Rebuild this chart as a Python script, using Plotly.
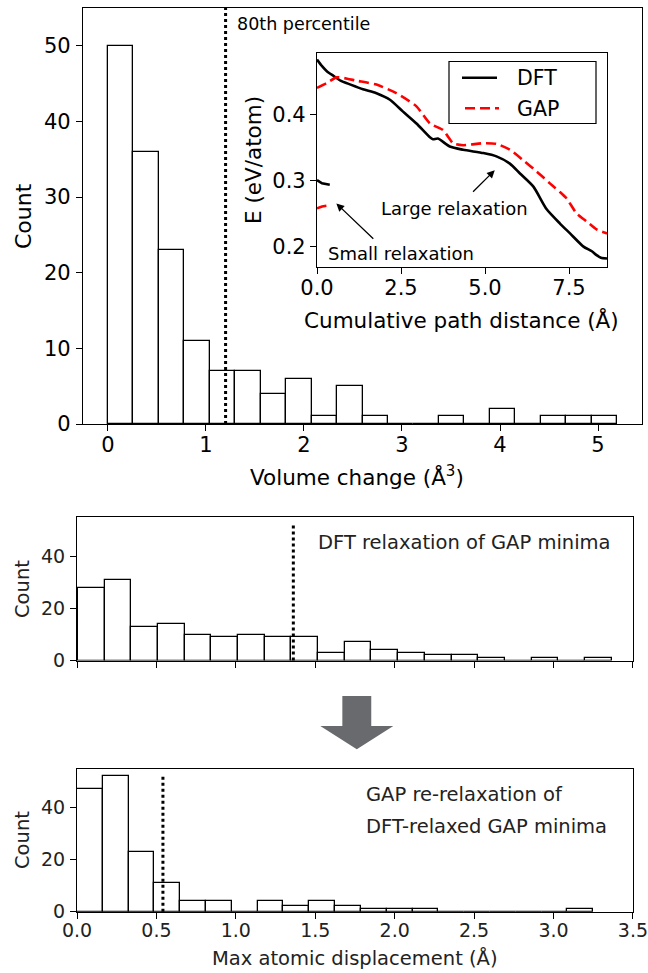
import numpy as np
import plotly.graph_objects as go

FONT = "DejaVu Sans"
W, H = 648, 973

# ---------------- data ----------------
# Top histogram: volume change
vol_counts = [50, 36, 23, 11, 7, 7, 4, 6, 1, 5, 1, 0, 0, 1, 0, 2, 0, 1, 1, 1]
vol_bin_start, vol_bin_width = 0.0, 0.2597
vol_p80 = 1.20
vol_xticks = [0, 1, 2, 3, 4, 5]
vol_yticks = [0, 10, 20, 30, 40, 50]

# Middle histogram: DFT relaxation of GAP minima
dft_counts = [28, 31, 13, 14, 10, 9, 10, 9, 9, 3, 7, 4, 3, 2, 2, 1, 0, 1, 0, 1]
dft_bin_start, dft_bin_width = 0.006, 0.168
dft_p80 = 1.362

# Bottom histogram: GAP re-relaxation of DFT-relaxed GAP minima
gap_counts = [47, 52, 23, 11, 4, 4, 0, 4, 2, 4, 2, 1, 1, 1, 0, 0, 0, 0, 0, 1]
gap_bin_start, gap_bin_width = 0.0, 0.1625
gap_p80 = 0.541
disp_xticks = [0.0, 0.5, 1.0, 1.5, 2.0, 2.5, 3.0, 3.5]
disp_xticklabels = ["0.0", "0.5", "1.0", "1.5", "2.0", "2.5", "3.0", "3.5"]
count_yticks = [0, 20, 40]

# Inset: energy vs cumulative path distance
dft_large_x = [0, 0.15, 0.3, 0.5, 0.7, 1.0, 1.37, 1.77, 2.17, 2.56, 2.96, 3.36, 3.45, 3.6,
               3.95, 4.35, 4.95, 5.34, 5.74, 6.04, 6.44, 6.83, 7.23, 7.53, 7.93, 8.18, 8.32, 8.45, 8.63]
dft_large_y = [0.484, 0.474, 0.466, 0.459, 0.452, 0.446, 0.439, 0.433, 0.423, 0.405, 0.387, 0.366, 0.363, 0.364,
               0.352, 0.347, 0.342, 0.337, 0.326, 0.311, 0.291, 0.257, 0.235, 0.220, 0.200, 0.193, 0.187, 0.183, 0.182]
gap_large_x = [0, 0.28, 0.58, 0.9, 1.17, 1.77, 2.36, 2.96, 3.36, 3.75, 4.05, 4.35, 4.95, 5.34,
               5.74, 6.14, 6.54, 6.93, 7.23, 7.43, 7.73, 8.03, 8.32, 8.63]
gap_large_y = [0.441, 0.448, 0.457, 0.455, 0.452, 0.446, 0.433, 0.413, 0.387, 0.377, 0.357, 0.354, 0.357, 0.356,
               0.347, 0.331, 0.314, 0.296, 0.283, 0.273, 0.250, 0.238, 0.226, 0.220]
dft_small_x = [0, 0.15, 0.38]
dft_small_y = [0.301, 0.296, 0.294]
gap_small_x = [0, 0.15, 0.28]
gap_small_y = [0.258, 0.261, 0.262]
inset_xticks = [0.0, 2.5, 5.0, 7.5]
inset_xticklabels = ["0.0", "2.5", "5.0", "7.5"]
inset_yticks = [0.2, 0.3, 0.4]
legend_names = ["DFT", "GAP"]

# ---------------- helpers ----------------
def px_x(p):
    return p / W

def px_y(p):
    return 1 - p / H

def centers(start, width, n):
    edges = start + width * np.arange(n + 1)
    return (edges[:-1] + edges[1:]) / 2

fig = go.Figure()

def hist_trace(counts, start, width, xa, ya):
    return go.Bar(x=centers(start, width, len(counts)), y=counts, width=width,
                  marker=dict(color="white", line=dict(color="black", width=1.3)),
                  xaxis=xa, yaxis=ya, showlegend=False, hoverinfo="skip")

fig.add_trace(hist_trace(vol_counts, vol_bin_start, vol_bin_width, "x", "y"))
fig.add_trace(hist_trace(dft_counts, dft_bin_start, dft_bin_width, "x3", "y3"))
fig.add_trace(hist_trace(gap_counts, gap_bin_start, gap_bin_width, "x4", "y4"))

DASH = "10px,5px"
# inset lines
fig.add_trace(go.Scatter(x=dft_large_x, y=dft_large_y, mode="lines", name=legend_names[0],
                         line=dict(color="black", width=2.6, shape="spline", smoothing=0.6),
                         xaxis="x2", yaxis="y2", showlegend=False))
fig.add_trace(go.Scatter(x=gap_large_x, y=gap_large_y, mode="lines", name=legend_names[1],
                         line=dict(color="#ff0000", width=2.6, dash=DASH, shape="spline", smoothing=0.6),
                         xaxis="x2", yaxis="y2", showlegend=False))
fig.add_trace(go.Scatter(x=dft_small_x, y=dft_small_y, mode="lines", showlegend=False,
                         line=dict(color="black", width=2.6), xaxis="x2", yaxis="y2"))
fig.add_trace(go.Scatter(x=gap_small_x, y=gap_small_y, mode="lines", showlegend=False,
                         line=dict(color="#ff0000", width=2.6, dash=DASH), xaxis="x2", yaxis="y2"))

axis_common = dict(showline=True, mirror=True, linecolor="black", linewidth=1.2,
                   ticks="outside", ticklen=6, tickwidth=1.2, tickcolor="black",
                   showgrid=False, zeroline=False, automargin=False, ticklabeloverflow="allow")

top_font = dict(family=FONT, size=21, color="black")
low_font = dict(family=FONT, size=19, color="#222")
fig.update_layout(
    # top main axes: px x 83-642, y 8-424
    xaxis=dict(domain=[px_x(83), px_x(642)], range=[-0.255, 5.449], anchor="y",
               tickvals=vol_xticks, tickfont=top_font, ticklabelstandoff=-4, **axis_common),
    yaxis=dict(domain=[px_y(424), px_y(8)], range=[0, 55], anchor="x",
               tickvals=vol_yticks, tickfont=top_font, ticklabelstandoff=1, **axis_common),
    # inset: px x 317-607, y 53-267
    xaxis2=dict(domain=[px_x(317), px_x(607)], range=[0, 8.63], anchor="y2",
                tickvals=inset_xticks, ticktext=inset_xticklabels, tickfont=top_font,
                ticklabelstandoff=-4, **axis_common),
    yaxis2=dict(domain=[px_y(267), px_y(53)], range=[0.169, 0.494], anchor="x2",
                tickvals=inset_yticks, tickfont=top_font, ticklabelstandoff=0, **axis_common),
    # middle: px x 77-633, y 517-660.5
    xaxis3=dict(domain=[px_x(77), px_x(633)], range=[0, 3.5005], anchor="y3",
                tickvals=disp_xticks, showticklabels=False, **axis_common),
    yaxis3=dict(domain=[px_y(660.5), px_y(517)], range=[0, 55.3], anchor="x3",
                tickvals=count_yticks, tickfont=low_font, ticklabelstandoff=1, **axis_common),
    # bottom: px x 77-633, y 769-911.7
    xaxis4=dict(domain=[px_x(77), px_x(633)], range=[0, 3.5005], anchor="y4",
                tickvals=disp_xticks, ticktext=disp_xticklabels,
                tickfont=low_font, ticklabelstandoff=-5, **axis_common),
    yaxis4=dict(domain=[px_y(911.7), px_y(769)], range=[0, 54.6], anchor="x4",
                tickvals=count_yticks, tickfont=low_font, ticklabelstandoff=1, **axis_common),
)

# percentile dotted lines
shapes = []
for xr, yr, xv in [("x", "y", vol_p80), ("x3", "y3", dft_p80), ("x4", "y4", gap_p80)]:
    shapes.append(dict(type="line", xref=xr, yref=yr + " domain", x0=xv, x1=xv, y0=0,
                       y1=1 if xr == "x" else 0.96,
                       line=dict(color="black", width=3, dash="dot")))

# big grey down arrow between middle and bottom panels (paper coords)
ax_c, sh_w, hd_w = 356.8, 28.9, 73
y_top, y_base, y_tip = 696, 726, 749.3
pts = [(ax_c - sh_w / 2, y_top), (ax_c + sh_w / 2, y_top), (ax_c + sh_w / 2, y_base),
       (ax_c + hd_w / 2, y_base), (ax_c, y_tip), (ax_c - hd_w / 2, y_base), (ax_c - sh_w / 2, y_base)]
path = "M " + " L ".join(f"{px_x(x):.5f},{px_y(y):.5f}" for x, y in pts) + " Z"
shapes.append(dict(type="path", xref="paper", yref="paper", path=path,
                   fillcolor="#696a6d", line=dict(width=0)))

# inset legend box (drawn manually to match matplotlib layout)
shapes.append(dict(type="rect", xref="paper", yref="paper",
                   x0=px_x(449), x1=px_x(596), y0=px_y(123.5), y1=px_y(61.5),
                   fillcolor="white", line=dict(color="black", width=1.2), layer="above"))
shapes.append(dict(type="line", xref="paper", yref="paper", x0=px_x(462), x1=px_x(497),
                   y0=px_y(77.7), y1=px_y(77.7), line=dict(color="black", width=2.6), layer="above"))
shapes.append(dict(type="line", xref="paper", yref="paper", x0=px_x(465), x1=px_x(499),
                   y0=px_y(108.3), y1=px_y(108.3), line=dict(color="#ff0000", width=2.6, dash=DASH),
                   layer="above"))
fig.update_layout(shapes=shapes)

ann = []
def txt(x, y, s, size, xanchor="center", yanchor="middle", angle=0, color="black"):
    ann.append(dict(x=px_x(x), y=px_y(y), xref="paper", yref="paper", text=s, showarrow=False,
                    xanchor=xanchor, yanchor=yanchor, textangle=angle,
                    font=dict(family=FONT, size=size, color=color)))

# axis titles
txt(23, 216, "Count", 22, angle=-90)
txt(357, 476, "Volume change (Å<sup>3</sup>)", 21.5)
txt(253, 160, "E (eV/atom)", 21.5, angle=-90)
txt(462, 320, "Cumulative path distance (Å)", 21.5)
txt(22, 589, "Count", 19.5, angle=-90, color="#222")
txt(22, 840, "Count", 19.5, angle=-90, color="#222")
txt(355, 958, "Max atomic displacement (Å)", 19.5, color="#222")
# panel texts
txt(235, 24, "80th percentile", 17.5, xanchor="left")
txt(316, 542, "DFT relaxation of GAP minima", 19.5, xanchor="left", color="#222")
txt(364, 794, "GAP re-relaxation of", 19.5, xanchor="left", color="#222")
txt(364, 826, "DFT-relaxed GAP minima", 19.5, xanchor="left", color="#222")
# legend labels
txt(515, 78, legend_names[0], 20.5, xanchor="left")
txt(515, 109, legend_names[1], 20.5, xanchor="left")

# inset annotations: arrows (tail -> head) and texts
ann.append(dict(x=5.29, y=0.316, ax=4.60, ay=0.281, xref="x2", yref="y2", axref="x2", ayref="y2",
                text="", showarrow=True, arrowhead=2, arrowsize=1.2, arrowwidth=1.3, arrowcolor="black"))
ann.append(dict(x=0.576, y=0.2655, ax=1.72, ay=0.2096, xref="x2", yref="y2", axref="x2", ayref="y2",
                text="", showarrow=True, arrowhead=2, arrowsize=1.2, arrowwidth=1.3, arrowcolor="black"))
ann.append(dict(x=4.10, y=0.258, xref="x2", yref="y2", text="Large relaxation", showarrow=False,
                font=dict(family=FONT, size=18, color="black")))
ann.append(dict(x=2.51, y=0.1893, xref="x2", yref="y2", text="Small relaxation", showarrow=False,
                font=dict(family=FONT, size=18, color="black")))
fig.update_layout(annotations=ann)

fig.update_layout(
    width=W, height=H, margin=dict(l=0, r=0, t=0, b=0, pad=0, autoexpand=False),
    paper_bgcolor="white", plot_bgcolor="white",
    font=dict(family=FONT, color="black"),
    bargap=0, showlegend=False,
)

fig.write_html("out.html")
